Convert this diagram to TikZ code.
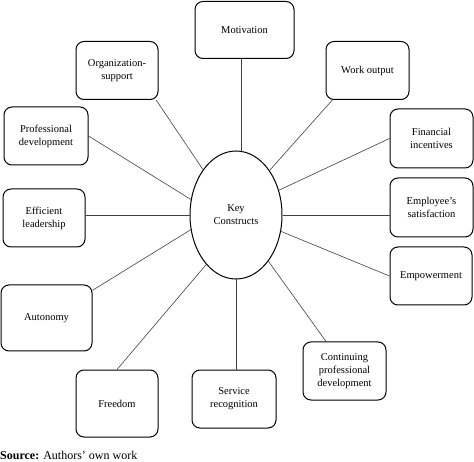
\documentclass[tikz,border=0pt]{standalone}
\usepackage{fontspec}
\setmainfont{Liberation Serif}
\usepackage{tikz}
\usetikzlibrary{positioning,shapes.geometric}
\tikzset{
  conbox/.style={draw, rounded corners=8pt, line width=1pt, fill=white, minimum width=83pt, minimum height=58pt, align=center, inner sep=2pt},
  keyell/.style={draw, ellipse, line width=1pt, fill=white, minimum width=92pt, minimum height=128pt, inner sep=0pt, align=center},
  linkline/.style={line width=0.6pt, black!75},
  srcnote/.style={font=\fontsize{12}{14}\selectfont, anchor=base west, inner sep=0pt}
}

\begin{document}
\begin{tikzpicture}[x=1pt, y=-1pt, every node/.style={font=\fontsize{10.5}{13}\selectfont}]
  \useasboundingbox (0,0) rectangle (474,462);
  \node[keyell] (key) at (236,215) {Key\\ Constructs};
  \node[conbox, minimum width=99pt, minimum height=57pt] (motiv) at (244.5,30) {Motivation};
  \node[conbox, minimum width=82pt] (orgsup) at (117,70.5) {Organization-\\ support};
  \node[conbox] (workout) at (367.5,70.5) {Work output};
  \node[conbox, minimum width=84pt] (profdev) at (46,136) {Professional\\ development};
  \node[conbox, minimum height=59pt] (fininc) at (431.5,138.5) {Financial\\ incentives};
  \node[conbox, minimum width=82pt] (effled) at (44,218) {Efficient\\ leadership};
  \node[conbox, minimum height=59pt] (empsat) at (431.5,207.5) {Employee’s\\ satisfaction};
  \node[conbox, minimum width=82pt] (empow) at (431,276) {Empowerment};
  \node[conbox, minimum width=91pt, minimum height=66pt] (auton) at (46.5,318) {Autonomy};
  \node[conbox] (contpd) at (344.5,371) {Continuing\\ professional\\ development};
  \node[conbox, minimum width=82pt, minimum height=67pt] (freedom) at (117,403.5) {Freedom};
  \node[conbox, minimum width=84pt] (servrec) at (234,399) {Service\\ recognition};

  % links to the key constructs
  \draw[linkline] (key.85) -- (key.85 |- motiv.south);
  \draw[linkline] (key.53) -- (workout.220);
  \draw[linkline] (key.30) -- (fininc.west);
  \draw[linkline] (key.east) -- (key.east -| empsat.west);
  \draw[linkline] (key.-20) -- (empow.west);
  \draw[linkline] (key.-55) -- (contpd.122);
  \draw[linkline] (key.south) -- (key.south |- servrec.north);
  \draw[linkline] (key.239) -- (freedom.north);
  \draw[linkline] (key.198) -- (auton.31);
  \draw[linkline] (key.west) -- (key.west -| effled.east);
  \draw[linkline] (key.161) -- (profdev.east);
  \draw[linkline] (key.126) -- (orgsup.-37);

  \node[srcnote] (source) at (0,459) {\textbf{Source:} Authors’ own work};
\end{tikzpicture}
\end{document}
